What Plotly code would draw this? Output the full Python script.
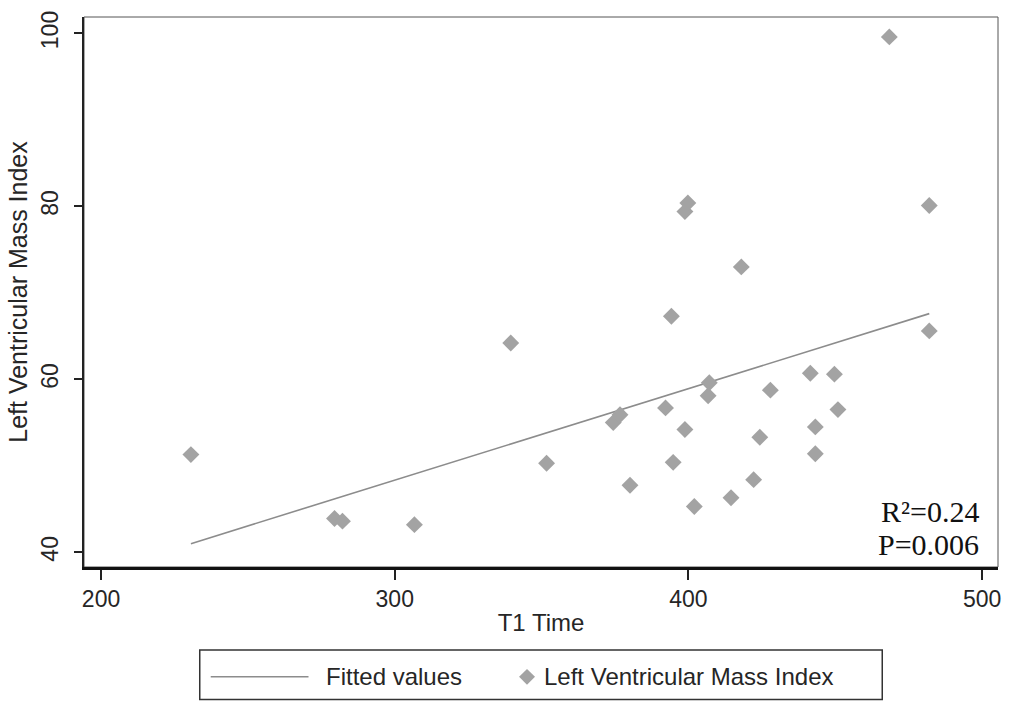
import plotly.graph_objects as go

# ---- data ----
t1_time = [230.6, 279.5, 282.2, 306.7, 339.5, 351.7, 374.4, 376.7, 380.1, 392.2,
           394.2, 394.8, 398.8, 398.8, 399.8, 402.0, 406.7, 407.1, 414.5, 418.0,
           422.2, 424.3, 427.9, 441.5, 443.2, 443.2, 449.7, 450.9, 468.4, 482.0, 482.0]
lvmi = [51.3, 43.9, 43.6, 43.2, 64.2, 50.3, 55.0, 55.9, 47.75, 56.7,
        67.3, 50.4, 54.2, 79.4, 80.4, 45.3, 58.1, 59.6, 46.3, 73.0,
        48.4, 53.3, 58.75, 60.7, 54.5, 51.4, 60.6, 56.5, 99.6, 80.1, 65.6]
fitted_x = [230.6, 482.0]
fitted_y = [41.0, 67.6]
x_ticks = [200, 300, 400, 500]
y_ticks = [40, 60, 80, 100]
stats_text = ["R²=0.24", "P=0.006"]
legend_labels = ["Fitted values", "Left Ventricular Mass Index"]

# ---- layout geometry (pixels) ----
W, H = 1012, 702
L, R, T, B = 84, 12, 11, 135
PW, PH = W - L - R, H - T - B

def px(x):
    return (x - L) / PW

def py(y):
    return (H - B - y) / PH

SANS = "Liberation Sans, Arial, sans-serif"
SERIF = "Liberation Serif, Times New Roman, serif"
MARK = "#a3a3a3"
LINE = "#8c8c8c"
TXT = "#262626"

fig = go.Figure()
fig.add_trace(go.Scatter(x=fitted_x, y=fitted_y, mode="lines", name=legend_labels[0],
                         line=dict(color=LINE, width=1.6), showlegend=False))
fig.add_trace(go.Scatter(x=t1_time, y=lvmi, mode="markers", name=legend_labels[1],
                         marker=dict(symbol="diamond", size=13, color=MARK, line=dict(width=0)),
                         showlegend=False))

fig.update_layout(
    width=W, height=H,
    margin=dict(l=L, r=R, t=T, b=B),
    paper_bgcolor="white", plot_bgcolor="white",
    font=dict(family=SANS, color=TXT),
    xaxis=dict(range=[194.2, 505.4], tickvals=x_ticks, ticks="outside", ticklen=10,
               tickwidth=1.5, tickcolor="#222", showgrid=False, zeroline=False,
               showline=True, linecolor="#111", linewidth=2.5,
               tickfont=dict(size=23, family=SANS, color=TXT),
               title=dict(text="T1 Time", font=dict(size=24, family=SANS, color=TXT), standoff=3)),
    yaxis=dict(range=[38.3, 101.9], tickvals=y_ticks, ticks="outside", ticklen=8,
               tickwidth=1.5, tickcolor="#222", showgrid=False, zeroline=False,
               showline=True, linecolor="#222", linewidth=2, tickangle=-90,
               ticklabelstandoff=7,
               tickfont=dict(size=23, family=SANS, color=TXT),
               title=dict(text="Left Ventricular Mass Index",
                          font=dict(size=25, family=SANS, color=TXT), standoff=2)),
)

# plot-region border (top/right thin)
fig.add_shape(type="rect", xref="paper", yref="paper", x0=0, x1=1, y0=0, y1=1,
              line=dict(color="#555", width=1), layer="below")

# statistics text
fig.add_annotation(x=499.5, y=44.7, xref="x", yref="y", text=stats_text[0],
                   showarrow=False, xanchor="right", yanchor="middle",
                   font=dict(family=SERIF, size=30, color="#111"))
fig.add_annotation(x=499.5, y=40.9, xref="x", yref="y", text=stats_text[1],
                   showarrow=False, xanchor="right", yanchor="middle",
                   font=dict(family=SERIF, size=30, color="#111"))

# legend (drawn below the plot)
fig.add_shape(type="rect", xref="paper", yref="paper", x0=px(200), x1=px(884),
              y0=py(701), y1=py(651), line=dict(color="#333", width=1.5))
fig.add_shape(type="line", xref="paper", yref="paper", x0=px(211), x1=px(309),
              y0=py(678), y1=py(678), line=dict(color=LINE, width=1.6))
dx, dy = 8 / PW, 8 / PH
cx, cy = px(528), py(678)
fig.add_shape(type="path", xref="paper", yref="paper",
              path=f"M {cx-dx},{cy} L {cx},{cy+dy} L {cx+dx},{cy} L {cx},{cy-dy} Z",
              fillcolor=MARK, line=dict(width=0))
fig.add_annotation(x=px(325), y=py(678), xref="paper", yref="paper", text=legend_labels[0],
                   showarrow=False, xanchor="left", yanchor="middle",
                   font=dict(family=SANS, size=24, color=TXT))
fig.add_annotation(x=px(543), y=py(678), xref="paper", yref="paper", text=legend_labels[1],
                   showarrow=False, xanchor="left", yanchor="middle",
                   font=dict(family=SANS, size=24, color=TXT))

fig.write_html("out.html")
